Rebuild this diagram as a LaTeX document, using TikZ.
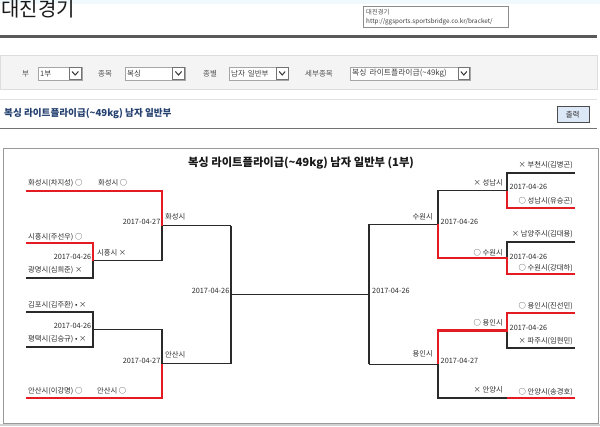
\documentclass[tikz,border=0pt]{standalone}
\usepackage{fontspec}
\setmainfont{Noto Sans CJK KR}
\definecolor{bred}{HTML}{E31B23}
\definecolor{bline}{HTML}{2A2A2A}
\definecolor{headblue}{HTML}{24406E}
\definecolor{formbg}{HTML}{F4F4F4}
\definecolor{formbd}{HTML}{DDDDDD}
\definecolor{lbltxt}{HTML}{555555}
\definecolor{btnfill}{HTML}{DCE8F5}
\tikzset{
  lbl/.style={inner sep=0pt, font=\fontsize{7.3}{8}\selectfont, text=bline},
  flbl/.style={inner sep=0pt, font=\fontsize{7.5}{9}\selectfont, text=lbltxt},
  wl/.style={draw=bline, line width=1.25pt},
  rl/.style={draw=bred, line width=2.4pt},
  selbox/.style={draw=black!35, fill=white, line width=0.6pt},
  arrbox/.style={draw=black!55, fill=white, line width=0.6pt},
  chev/.style={draw=black!80, line width=1pt},
}
\begin{document}
\begin{tikzpicture}[x=1pt,y=-1pt]
\useasboundingbox (0,0) rectangle (600,426);
% top band
\fill[cyan!6] (0,0) rectangle (600,3.5);
% page title
\node[inner sep=0pt, anchor=base west, font=\fontsize{20}{22}\selectfont, text=black!90] (ptitle) at (1,16.5) {대진경기};
% tooltip
\node[draw=black!45, fill=white, minimum width=145pt, minimum height=21pt, inner sep=0pt, anchor=north west] (tip) at (363,6) {};
\node[inner sep=0pt, anchor=west, font=\fontsize{6.3}{7}\selectfont, text=black!70] (tip1) at (366,12) {대진경기};
\node[inner sep=0pt, anchor=west, font=\fontsize{6.3}{7}\selectfont, text=black!75] (tip2) at (366,22) {http://ggsports.sportsbridge.co.kr/bracket/};
% top rule
\draw[black!65, line width=2.2pt] (0,36.5) -- (597,36.5);
% form panel
\filldraw[fill=formbg, draw=formbd, line width=0.6pt] (0,55) rectangle (597,89);
\node[flbl, anchor=west] (f1) at (22,73.5) {부};
\draw[selbox] (38,67) rectangle (82,80);
\node[flbl, anchor=west, text=black!75] (s1) at (40,73.5) {1부};
\draw[arrbox] (69,67.5) rectangle (81.5,79.5);
\draw[chev] (72,71.5) -- (75.2,75) -- (78.4,71.5);
\node[flbl, anchor=west] (f2) at (98,73.5) {종목};
\draw[selbox] (125,67) rectangle (185,80);
\node[flbl, anchor=west, text=black!75] (s2) at (127,73.5) {복싱};
\draw[arrbox] (172.5,67.5) rectangle (184.5,79.5);
\draw[chev] (175.4,71.5) -- (178.5,75) -- (181.6,71.5);
\node[flbl, anchor=west] (f3) at (203,73.5) {종별};
\draw[selbox] (229,67) rectangle (288,80);
\node[flbl, anchor=west, text=black!75] (s3) at (231,73.5) {남자\, 일반부};
\draw[arrbox] (276.5,67.5) rectangle (288,79.5);
\draw[chev] (279.2,71.5) -- (282.2,75) -- (285.2,71.5);
\node[flbl, anchor=west] (f4) at (305,73.5) {세부종목};
\draw[selbox] (350,67) rectangle (470,80);
\begin{scope}
\clip (350,67) rectangle (458,80);
\node[flbl, anchor=west, text=black!75, font=\fontsize{7.8}{9}\selectfont] (s4) at (352,73.5) {복싱\, 라이트플라이급(\textasciitilde49kg)};
\end{scope}
\draw[arrbox] (458,67.5) rectangle (469.5,79.5);
\draw[chev] (460.8,71.5) -- (463.8,75) -- (466.8,71.5);
% thin rule
\draw[black!12, line width=0.8pt] (0,99) -- (597,99);
% heading
\node[inner sep=0pt, anchor=west, font=\bfseries\fontsize{9.6}{11}\selectfont, text=headblue] (head) at (4,113.5) {복싱 라이트플라이급(\textasciitilde49kg) 남자 일반부};
% button
\node[draw=black!70, fill=btnfill, minimum width=32pt, minimum height=16pt, inner sep=0pt, anchor=north west, font=\fontsize{7.5}{9}\selectfont, text=black!80] (btn) at (556.5,106) {출력};
% dark rule
\draw[black!55, line width=1.4pt] (0,128.5) -- (597,128.5);
% bracket panel
\fill[black!18] (0,423.5) rectangle (600,426);
\draw[black!40, fill=white, line width=0.8pt] (3,148) rectangle (598,423.5);
\node[inner sep=0pt, font=\bfseries\fontsize{11.3}{13}\selectfont, text=black!90] (btitle) at (301,163.5) {복싱 라이트플라이급(\textasciitilde49kg) 남자 일반부 (1부)};

% ---------- coordinates ----------
% left
\coordinate (A1) at (26,191);   \coordinate (A2) at (162,191);
\coordinate (B1) at (26,243);   \coordinate (B2) at (93,243);
\coordinate (C1) at (26,278);   \coordinate (C2) at (93,278);
\coordinate (M1) at (93,260.5); \coordinate (N1) at (162,260.5);
\coordinate (R1) at (162,225.75); \coordinate (S1) at (231,225.75);
\coordinate (D1) at (26,312);   \coordinate (D2) at (93,312);
\coordinate (E1) at (26,347);   \coordinate (E2) at (93,347);
\coordinate (M2) at (93,329.5); \coordinate (N2) at (162,329.5);
\coordinate (F1) at (26,398);   \coordinate (F2) at (162,398);
\coordinate (R2) at (162,363.75); \coordinate (S2) at (231,363.75);
\coordinate (Q1) at (231,294.5); \coordinate (Q2) at (369,294.5);
% right
\coordinate (G1) at (575,173);  \coordinate (G2) at (507,173);
\coordinate (H1) at (575,208);  \coordinate (H2) at (507,208);
\coordinate (M3) at (507,190.5); \coordinate (N3) at (438,190.5);
\coordinate (I1) at (575,242);  \coordinate (I2) at (507,242);
\coordinate (J1) at (575,274);  \coordinate (J2) at (507,274);
\coordinate (M4) at (507,258);  \coordinate (N4) at (438,258);
\coordinate (R3) at (438,224.25); \coordinate (S3) at (369,224.25);
\coordinate (K1) at (575,313);  \coordinate (K2) at (507,313);
\coordinate (L1) at (575,348);  \coordinate (L2) at (507,348);
\coordinate (M5) at (507,330.5); \coordinate (N5) at (438,330.5);
\coordinate (P1) at (575,398);  \coordinate (P3) at (507,398); \coordinate (P2) at (438,398);
\coordinate (R4) at (438,364.25); \coordinate (S4) at (369,364.25);

% ---------- black lines ----------
\draw[wl] (R1) -- (S1);
\draw[wl] (R1) -- (N1);
\draw[wl] (M1) -- (C2) -- (C1);
\draw[wl] (M1) -- (N1);
\draw[wl] (S1) -- (S2);
\draw[wl] (Q1) -- (Q2);
\draw[wl] (D1) -- (D2) -- (E2) -- (E1);
\draw[wl] (M2) -- (N2) -- (R2);
\draw[wl] (R2) -- (S2);
\draw[wl] (G1) -- (G2) -- (M3);
\draw[wl] (M3) -- (N3) -- (R3);
\draw[wl] (R3) -- (S3);
\draw[wl] (I1) -- (I2) -- (M4);
\draw[wl] (S3) -- (S4);
\draw[wl] (M5) -- (L2) -- (L1);
\draw[wl] (R4) -- (P2) -- (P3);
\draw[wl] (R4) -- (S4);
% ---------- red lines ----------
\draw[rl] (A1) -- (A2) -- (R1);
\draw[rl] (B1) -- (B2) -- (M1);
\draw[rl] (R2) -- (F2) -- (F1);
\draw[rl] (M3) -- (H2) -- (H1);
\draw[rl] (R3) -- (N4) -- (M4) -- (J2) -- (J1);
\draw[rl] (K1) -- (K2) -- (M5) -- (N5) -- (R4);
\draw[rl] (P3) -- (P1);

% ---------- labels left ----------
\node[lbl, anchor=west] (t1) at (28,183) {화성시(차지성) ○};
\node[lbl, anchor=west] (t2) at (98,183) {화성시 ○};
\node[lbl, anchor=east] (d1) at (160.5,222) {2017-04-27};
\node[lbl, anchor=west] (w1) at (165,217) {화성시};
\node[lbl, anchor=west] (t3) at (28,237) {시흥시(주선우) ○};
\node[lbl, anchor=west] (t4) at (97,253) {시흥시 ×};
\node[lbl, anchor=east] (d2) at (91.5,257) {2017-04-26};
\node[lbl, anchor=west] (t5) at (28,270) {광명시(심희준) ×};
\node[lbl, anchor=east] (d3) at (229.5,290.5) {2017-04-26};
\node[lbl, anchor=west] (t6) at (28,305) {김포시(김주환) • ×};
\node[lbl, anchor=east] (d4) at (91.5,326) {2017-04-26};
\node[lbl, anchor=west] (t7) at (28,339) {평택시(김승규) • ×};
\node[lbl, anchor=west] (w2) at (165,354.5) {안산시};
\node[lbl, anchor=east] (d5) at (160.5,360.5) {2017-04-27};
\node[lbl, anchor=west] (t8) at (28,391) {안산시(이강명) ○};
\node[lbl, anchor=west] (t9) at (97,390.5) {안산시 ○};
% ---------- labels right ----------
\node[lbl, anchor=east] (u1) at (573,165) {× 부천시(김병곤)};
\node[lbl, anchor=east] (u2) at (503,183) {× 성남시};
\node[lbl, anchor=west] (e1) at (509.5,187) {2017-04-26};
\node[lbl, anchor=east] (u3) at (573,201) {○ 성남시(유승곤)};
\node[lbl, anchor=east] (v1) at (433,217) {수원시};
\node[lbl, anchor=west] (e2) at (440.5,222) {2017-04-26};
\node[lbl, anchor=east] (u4) at (573,234.5) {× 남양주시(김대용)};
\node[lbl, anchor=east] (u5) at (503,252.5) {○ 수원시};
\node[lbl, anchor=west] (e3) at (509.5,257) {2017-04-26};
\node[lbl, anchor=east] (u6) at (573,268) {○ 수원시(강대하)};
\node[lbl, anchor=west] (e4) at (372,290.5) {2017-04-26};
\node[lbl, anchor=east] (u7) at (573,306) {○ 용인시(진선민)};
\node[lbl, anchor=east] (u8) at (503,323) {○ 용인시};
\node[lbl, anchor=west] (e5) at (509.5,328) {2017-04-26};
\node[lbl, anchor=east] (u9) at (573,341) {× 파주시(임현민)};
\node[lbl, anchor=east] (v2) at (433,354) {용인시};
\node[lbl, anchor=west] (e6) at (440.5,361) {2017-04-27};
\node[lbl, anchor=east] (u10) at (503,390) {× 안양시};
\node[lbl, anchor=east] (u11) at (573,392.5) {○ 안양시(송경호)};
\end{tikzpicture}
\end{document}
